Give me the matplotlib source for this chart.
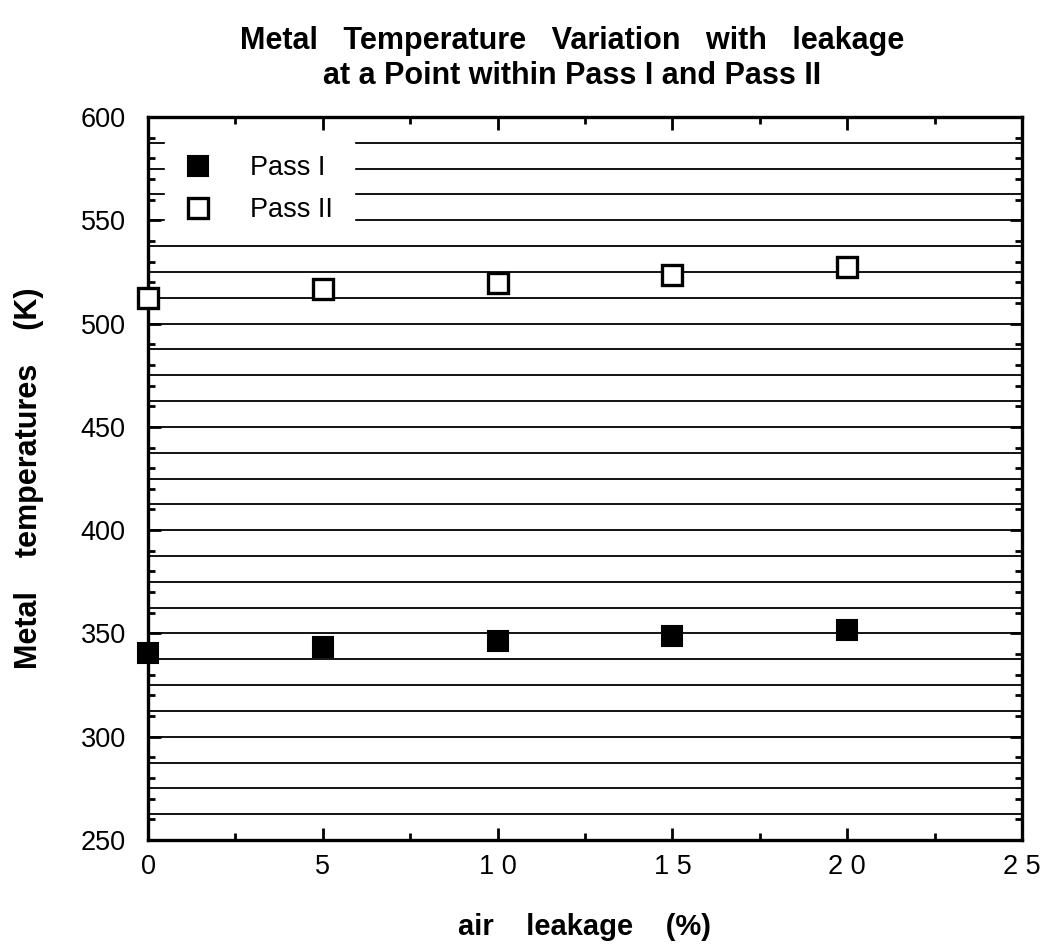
import numpy as np
import matplotlib
matplotlib.use('Agg')
import matplotlib.pyplot as plt
from matplotlib.ticker import MultipleLocator

plt.rcParams['font.family'] = ['Liberation Sans', 'DejaVu Sans']

# data
leakage = [0, 5, 10, 15, 20]
pass_1 = [340.7, 343.2, 346.4, 348.8, 351.7]
pass_2 = [512.6, 516.7, 519.5, 523.5, 527.3]
x_ticks = [0, 5, 10, 15, 20, 25]
x_tick_labels = ['0', '5', '1 0', '1 5', '2 0', '2 5']
y_ticks = [250, 300, 350, 400, 450, 500, 550, 600]

fig = plt.figure(figsize=(10.49, 9.46), dpi=100)
ax = fig.add_axes([148/1049, 106/946, 874/1049, 723/946])

# scan stripes in the background
stripes = np.arange(262.5, 600, 12.5)
ax.hlines(stripes, 0, 25, colors='black', linewidth=1.3, zorder=1)

ax.plot(leakage, pass_1, 's', color='black', markersize=14,
        markeredgewidth=1.5, linestyle='none', label='Pass I', zorder=3, clip_on=False)
ax.plot(leakage, pass_2, 's', markerfacecolor='white', markeredgecolor='black',
        markersize=14, markeredgewidth=2.4, linestyle='none', label='Pass II ',
        zorder=3, clip_on=False)

ax.set_xlim(0, 25)
ax.set_ylim(250, 600)
ax.set_xticks(x_ticks)
ax.set_xticklabels(x_tick_labels)
ax.set_yticks(y_ticks)
ax.xaxis.set_minor_locator(MultipleLocator(2.5))
ax.yaxis.set_minor_locator(MultipleLocator(10))
ax.tick_params(which='both', direction='in', top=True, right=True, width=2,
               labelsize=19.5)
ax.tick_params(axis='y', pad=16)
ax.tick_params(axis='x', pad=10)
ax.tick_params(which='major', length=9)
ax.tick_params(which='minor', length=5)
for s in ax.spines.values():
    s.set_linewidth(2.4)

ax.set_xlabel('air    leakage    (%)', fontsize=21, fontweight='bold', labelpad=24)
ax.set_ylabel('Metal    temperatures    (K)', fontsize=22, fontweight='bold', labelpad=26)
ax.set_title('Metal   Temperature   Variation   with   leakage\nat a Point within Pass I and Pass II',
             fontsize=22, fontweight='bold', pad=24, linespacing=1.2, x=0.485)

leg = ax.legend(loc='upper left', bbox_to_anchor=(0.019, 0.966), fontsize=19.5,
                frameon=True, fancybox=False, edgecolor='white', facecolor='white',
                framealpha=1, borderpad=0.5, borderaxespad=0, handlelength=1.44,
                handletextpad=1.2, labelspacing=0.6, markerscale=1.0)
leg.set_zorder(4)

fig.savefig('out.png', dpi=100)
